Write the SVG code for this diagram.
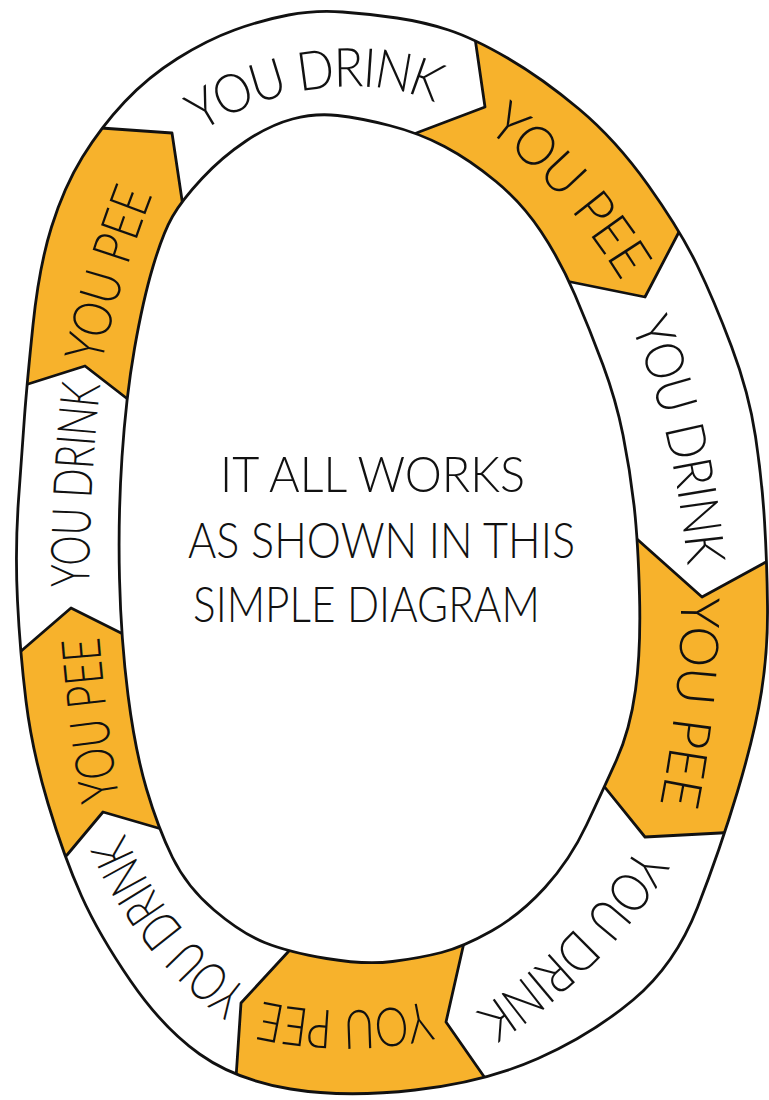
<svg xmlns="http://www.w3.org/2000/svg" width="769" height="1100" viewBox="0 0 769 1100">
<style>
.line{fill:none;stroke:#111;stroke-width:2.8;stroke-linejoin:round;stroke-linecap:round}
.pee{fill:#F7B22C}
.lbl{font-family:Lato,"Open Sans","Liberation Sans",sans-serif;font-size:54px;font-weight:300;fill:#111}
.ctr{font-family:Lato,"Open Sans","Liberation Sans",sans-serif;font-size:50px;font-weight:300;fill:#111}
</style>
<defs>
<path id="outer" d="M 288.5,15 Q 315,10 342.5,12 Q 370,14 397,18 Q 424,22 448.5,30 Q 473,38 507.5,58 Q 542,78 579,109 Q 616,140 648,185 Q 680,230 697,265 Q 714,300 731.5,346.5 Q 749,393 755.5,436.5 Q 762,480 764.5,521 Q 767,562 767.5,606 Q 768,650 761.5,691.5 Q 755,733 737.5,791.5 Q 720,850 697.5,907.5 Q 675,965 633,1000 Q 591,1035 538,1058.5 Q 485,1082 415,1090 Q 345,1098 290.5,1089 Q 236,1080 199.5,1054 Q 163,1028 131,981.5 Q 99,935 81.5,896 Q 64,857 48,803.5 Q 32,750 26,701 Q 20,652 17.5,601 Q 15,550 18.5,500 Q 22,450 24.5,416.5 Q 27,383 33,325 Q 39,267 51.5,227 Q 64,187 82.5,157 Q 101,127 124.5,102 Q 148,77 177.5,58.5 Q 207,40 234.5,30 Q 262,20 288.5,15 Z"/>
<path id="inner" d="M 292.5,119 Q 315,113 337.5,115.5 Q 360,118 389.5,125.5 Q 419,133 444.5,146.5 Q 470,160 496,181.5 Q 522,203 541,231.5 Q 560,260 575,295 Q 590,330 603,365 Q 616,400 623,435 Q 630,470 634,505 Q 638,540 639.5,595 Q 641,650 635.5,690 Q 630,730 616.5,760 Q 603,790 586.5,825 Q 570,860 545,887.5 Q 520,915 491.5,931 Q 463,947 441.5,952.5 Q 420,958 392.5,961.5 Q 365,965 326.5,958.5 Q 288,952 264.5,942.5 Q 241,933 214,910 Q 187,887 172.5,857.5 Q 158,828 146.5,789 Q 135,750 128,695 Q 121,640 119.5,578.5 Q 118,517 122,457 Q 126,397 134.5,348.5 Q 143,300 153,266.5 Q 163,233 172.5,216.5 Q 182,200 202,178.5 Q 222,157 246,141 Q 270,125 292.5,119 Z"/>
<clipPath id="ringClip">
<path clip-rule="evenodd" d="M 288.5,15 Q 315,10 342.5,12 Q 370,14 397,18 Q 424,22 448.5,30 Q 473,38 507.5,58 Q 542,78 579,109 Q 616,140 648,185 Q 680,230 697,265 Q 714,300 731.5,346.5 Q 749,393 755.5,436.5 Q 762,480 764.5,521 Q 767,562 767.5,606 Q 768,650 761.5,691.5 Q 755,733 737.5,791.5 Q 720,850 697.5,907.5 Q 675,965 633,1000 Q 591,1035 538,1058.5 Q 485,1082 415,1090 Q 345,1098 290.5,1089 Q 236,1080 199.5,1054 Q 163,1028 131,981.5 Q 99,935 81.5,896 Q 64,857 48,803.5 Q 32,750 26,701 Q 20,652 17.5,601 Q 15,550 18.5,500 Q 22,450 24.5,416.5 Q 27,383 33,325 Q 39,267 51.5,227 Q 64,187 82.5,157 Q 101,127 124.5,102 Q 148,77 177.5,58.5 Q 207,40 234.5,30 Q 262,20 288.5,15 Z M 292.5,119 Q 315,113 337.5,115.5 Q 360,118 389.5,125.5 Q 419,133 444.5,146.5 Q 470,160 496,181.5 Q 522,203 541,231.5 Q 560,260 575,295 Q 590,330 603,365 Q 616,400 623,435 Q 630,470 634,505 Q 638,540 639.5,595 Q 641,650 635.5,690 Q 630,730 616.5,760 Q 603,790 586.5,825 Q 570,860 545,887.5 Q 520,915 491.5,931 Q 463,947 441.5,952.5 Q 420,958 392.5,961.5 Q 365,965 326.5,958.5 Q 288,952 264.5,942.5 Q 241,933 214,910 Q 187,887 172.5,857.5 Q 158,828 146.5,789 Q 135,750 128,695 Q 121,640 119.5,578.5 Q 118,517 122,457 Q 126,397 134.5,348.5 Q 143,300 153,266.5 Q 163,233 172.5,216.5 Q 182,200 202,178.5 Q 222,157 246,141 Q 270,125 292.5,119 Z"/>
</clipPath>
<path id="p1" d="M 170,132 C 240,70 380,40 465,98"/>
<path id="p2" d="M 470,95 Q 580,165 655,300"/>
<path id="p3" d="M 630,280 Q 695,400 710,600"/>
<path id="p4" d="M 700,560 Q 705,700 670,850"/>
<path id="p5" d="M 670,830 Q 600,960 460,1045"/>
<path id="p6" d="M 470,1010 Q 345,1050 220,1010"/>
<path id="p7" d="M 265,1025 Q 140,945 95,810"/>
<path id="p8" d="M 105,830 Q 85,720 78,610"/>
<path id="p9" d="M 70,620 Q 68,480 85,350"/>
<path id="p10" d="M 75,400 Q 95,280 150,150"/>
</defs>

<g id="ring-base">
<path fill="#fff" fill-rule="evenodd" d="M 288.5,15 Q 315,10 342.5,12 Q 370,14 397,18 Q 424,22 448.5,30 Q 473,38 507.5,58 Q 542,78 579,109 Q 616,140 648,185 Q 680,230 697,265 Q 714,300 731.5,346.5 Q 749,393 755.5,436.5 Q 762,480 764.5,521 Q 767,562 767.5,606 Q 768,650 761.5,691.5 Q 755,733 737.5,791.5 Q 720,850 697.5,907.5 Q 675,965 633,1000 Q 591,1035 538,1058.5 Q 485,1082 415,1090 Q 345,1098 290.5,1089 Q 236,1080 199.5,1054 Q 163,1028 131,981.5 Q 99,935 81.5,896 Q 64,857 48,803.5 Q 32,750 26,701 Q 20,652 17.5,601 Q 15,550 18.5,500 Q 22,450 24.5,416.5 Q 27,383 33,325 Q 39,267 51.5,227 Q 64,187 82.5,157 Q 101,127 124.5,102 Q 148,77 177.5,58.5 Q 207,40 234.5,30 Q 262,20 288.5,15 Z"/>
</g>

<g id="seg-drink-top">
<text class="lbl" dy="0.36em"><textPath href="#p1" startOffset="50%" text-anchor="middle" textLength="262" lengthAdjust="spacingAndGlyphs">YOU DRINK</textPath></text>
</g>
<g id="seg-pee-topright">
<polygon class="pee" clip-path="url(#ringClip)" points="470,-10 475,38 485,107 419,132 380,170 540,276 571,282 645,297 680,230 720,150 700,-10"/>
<text class="lbl" dy="0.36em"><textPath href="#p2" startOffset="50%" text-anchor="middle" textLength="212" lengthAdjust="spacingAndGlyphs">YOU PEE</textPath></text>
</g>
<g id="seg-drink-right">
<text class="lbl" dy="0.36em"><textPath href="#p3" startOffset="51%" text-anchor="middle" textLength="252" lengthAdjust="spacingAndGlyphs">YOU DRINK</textPath></text>
</g>
<g id="seg-pee-right">
<polygon class="pee" clip-path="url(#ringClip)" points="600,520 638,540 702,597 766,562 800,540 800,850 720,833 645,837 603,785 580,760"/>
<text class="lbl" dy="0.36em"><textPath href="#p4" startOffset="49%" text-anchor="middle" textLength="212" lengthAdjust="spacingAndGlyphs">YOU PEE</textPath></text>
</g>
<g id="seg-drink-bottomright">
<text class="lbl" dy="0.36em"><textPath href="#p5" startOffset="50%" text-anchor="middle" textLength="242" lengthAdjust="spacingAndGlyphs">YOU DRINK</textPath></text>
</g>
<g id="seg-pee-bottom">
<polygon class="pee" clip-path="url(#ringClip)" points="470,920 463,947 446,1022 485,1078 500,1110 230,1110 236,1078 241,1003 288,952 300,925"/>
<text class="lbl" dy="0.36em"><textPath href="#p6" startOffset="50%" text-anchor="middle" textLength="175" lengthAdjust="spacingAndGlyphs">YOU PEE</textPath></text>
</g>
<g id="seg-drink-bottomleft">
<text class="lbl" dy="0.36em"><textPath href="#p7" startOffset="50%" text-anchor="middle" textLength="212" lengthAdjust="spacingAndGlyphs">YOU DRINK</textPath></text>
</g>
<g id="seg-pee-left">
<polygon class="pee" clip-path="url(#ringClip)" points="40,880 67,855 103,812 158,828 175,832 150,620 121,633 71,608 20,652 -10,660 -10,880"/>
<text class="lbl" dy="0.36em"><textPath href="#p8" startOffset="50%" text-anchor="middle" textLength="165" lengthAdjust="spacingAndGlyphs">YOU PEE</textPath></text>
</g>
<g id="seg-drink-left">
<text class="lbl" dy="0.36em"><textPath href="#p9" startOffset="50%" text-anchor="middle" textLength="205" lengthAdjust="spacingAndGlyphs">YOU DRINK</textPath></text>
</g>
<g id="seg-pee-topleft">
<polygon class="pee" clip-path="url(#ringClip)" points="-10,390 25,385 85,366 125,397 150,400 200,210 182,200 172,133 101,128 60,100 -10,100"/>
<text class="lbl" dy="0.36em"><textPath href="#p10" startOffset="50%" text-anchor="middle" textLength="180" lengthAdjust="spacingAndGlyphs">YOU PEE</textPath></text>
</g>

<g id="boundaries" clip-path="url(#ringClip)">
<polyline class="line" points="90,127 101,128 172,133 182,200 184,215"/>
<polyline class="line" points="473,25 475,38 485,107 419,132 400,140"/>
<polyline class="line" points="690,212 680,230 645,297 571,282 555,279"/>
<polyline class="line" points="625,528 638,540 702,597 766,562 780,554"/>
<polyline class="line" points="595,775 603,785 645,837 720,833 735,832"/>
<polyline class="line" points="466,932 463,947 446,1022 485,1078 495,1092"/>
<polyline class="line" points="298,941 288,952 241,1003 236,1078 235,1095"/>
<polyline class="line" points="55,870 67,855 103,812 158,828 172,832"/>
<polyline class="line" points="5,665 20,652 71,608 121,633 135,640"/>
<polyline class="line" points="5,391 25,385 85,366 125,397 140,409"/>
</g>

<g id="outlines">
<use href="#outer" class="line"/>
<use href="#inner" class="line"/>
</g>

<g id="center-text">
<text class="ctr" x="220" y="492" textLength="305" lengthAdjust="spacingAndGlyphs">IT ALL WORKS</text>
<text class="ctr" x="188" y="558" textLength="387" lengthAdjust="spacingAndGlyphs">AS SHOWN IN THIS</text>
<text class="ctr" x="193" y="622" textLength="347" lengthAdjust="spacingAndGlyphs">SIMPLE DIAGRAM</text>
</g>
</svg>
